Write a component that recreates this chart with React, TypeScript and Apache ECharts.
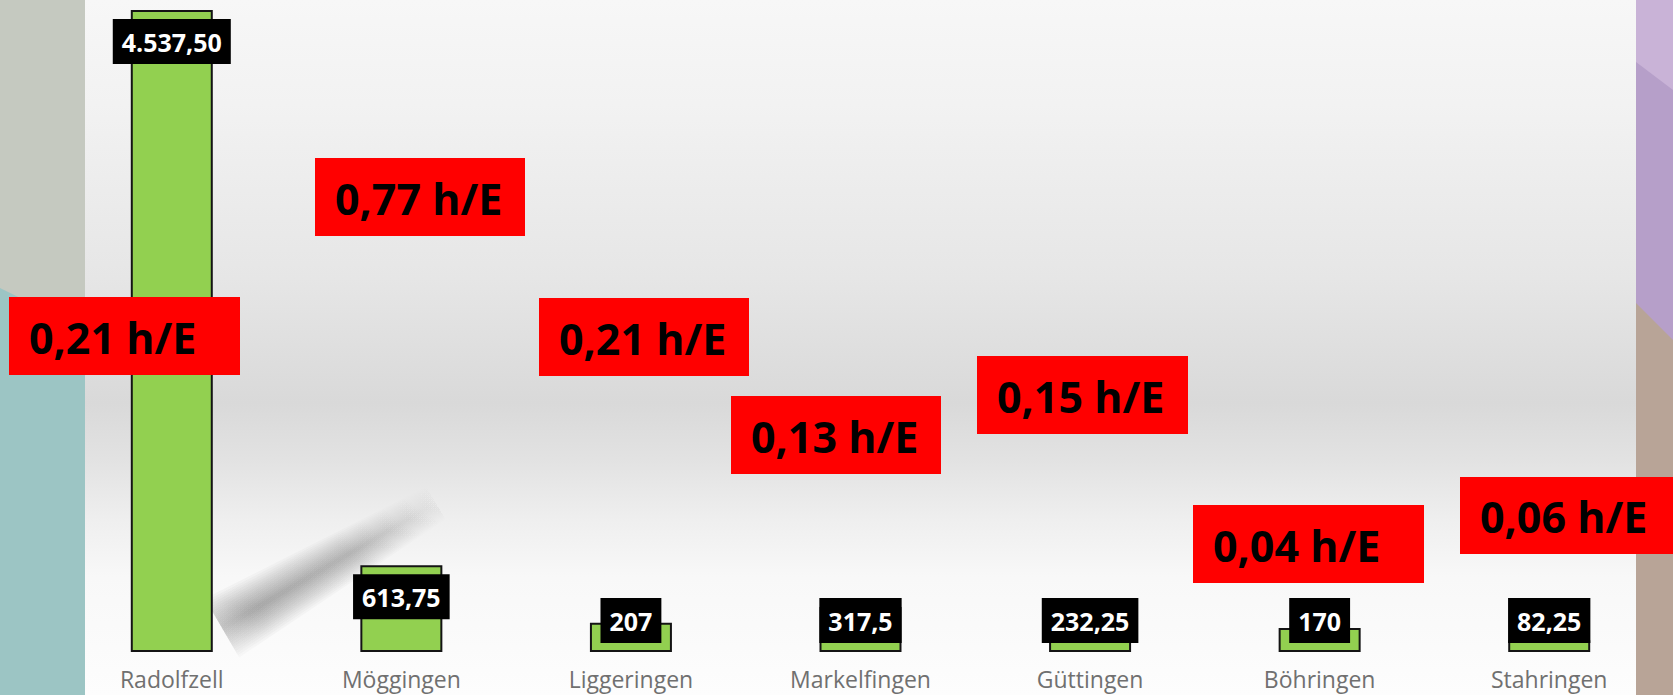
import React, { useEffect, useRef } from "react";
import * as echarts from "echarts";

// ---- data ----
const categories = ["Radolfzell", "Möggingen", "Liggeringen", "Markelfingen", "Güttingen", "Böhringen", "Stahringen"];
const hours = [4537.5, 613.75, 207, 317.5, 232.25, 170, 82.25];
const hourLabels = ["4.537,50", "613,75", "207", "317,5", "232,25", "170", "82,25"];
const hoursPerResident = [0.21, 0.77, 0.21, 0.13, 0.15, 0.04, 0.06];

// ---- layout (annotation boxes: x, y, w, h in px) ----
const ratioBoxes = [
  [9, 297, 231, 78],
  [315, 158, 210, 78],
  [539, 298, 210, 78],
  [731, 396, 210, 78],
  [977, 356, 211, 78],
  [1193, 505, 231, 78],
  [1460, 477, 213, 77],
];

const W = 1673;
const H = 695;
const GRID_TOP = 10;
const GRID_BOTTOM = 43;
const Y_MAX = 4537.5;
const LABEL_BOX_H = 45;

const fmtRatio = (v: number) => v.toFixed(2).replace(".", ",") + " h/E";

export default function App() {
  const ref = useRef<HTMLDivElement>(null);
  useEffect(() => {
    if (!ref.current) return;
    const chart = echarts.init(ref.current, undefined, { renderer: "svg" });
    const plotH = H - GRID_TOP - GRID_BOTTOM;

    const barData = hours.map((v, i) => {
      const px = (v / Y_MAX) * plotH;
      const tall = px >= LABEL_BOX_H + 18;
      return {
        value: v,
        label: {
          position: tall ? "insideTop" : "insideBottom",
          distance: 9,
          formatter: () => hourLabels[i],
        },
      };
    });

    // soft shadow band behind first bar (stacked translucent layers)
    const shadowLayers: any[] = [];
    const c0 = [222, 628];
    const c1 = [436, 503];
    const n = [0.504, 0.864];
    for (let k = 0; k < 14; k++) {
      const w = 34 - k * 2.4;
      const w2 = w * 0.55;
      shadowLayers.push({
        type: "polygon",
        silent: true,
        z: 1,
        shape: {
          points: [
            [c0[0] + n[0] * w, c0[1] + n[1] * w],
            [c1[0] + n[0] * w2, c1[1] + n[1] * w2],
            [c1[0] - n[0] * w2, c1[1] - n[1] * w2],
            [c0[0] - n[0] * w, c0[1] - n[1] * w],
          ],
        },
        style: {
          fill: new echarts.graphic.LinearGradient(0, 1, 1, 0, [
            { offset: 0, color: "rgba(0,0,0,0.012)" },
            { offset: 0.2, color: "rgba(0,0,0,0.028)" },
            { offset: 0.6, color: "rgba(0,0,0,0.022)" },
            { offset: 1, color: "rgba(0,0,0,0.0)" },
          ]),
        },
      });
    }

    const annotations: any[] = [];
    hoursPerResident.forEach((v, i) => {
      const [x, y, w, h] = ratioBoxes[i];
      annotations.push({
        type: "rect",
        z: 100,
        shape: { x, y, width: w, height: h },
        style: { fill: "#ff0000" },
      });
      annotations.push({
        type: "text",
        z: 101,
        x: x + 20,
        y: y + h / 2 + 1,
        style: {
          text: fmtRatio(v),
          fill: "#000000",
          font: "bold 43px 'Open Sans'",
          verticalAlign: "middle",
          align: "left",
        },
      });
    });

    chart.setOption({
      animation: false,
      graphic: [
        {
          type: "rect",
          z: -10,
          silent: true,
          shape: { x: 0, y: 0, width: W, height: H },
          style: {
            fill: new echarts.graphic.LinearGradient(0, 0, 0, 1, [
              { offset: 0, color: "#f7f7f7" },
              { offset: 0.15, color: "#f2f2f2" },
              { offset: 0.4, color: "#e6e6e6" },
              { offset: 0.58, color: "#d9d9d9" },
              { offset: 0.66, color: "#e2e2e2" },
              { offset: 0.75, color: "#efefef" },
              { offset: 0.83, color: "#f8f8f8" },
              { offset: 1, color: "#fdfdfd" },
            ]),
          },
        },
        { type: "rect", z: -5, silent: true, shape: { x: 0, y: 0, width: 85, height: H }, style: { fill: "#c5c9c0" } },
        { type: "polygon", z: -4, silent: true, shape: { points: [[0, 288], [85, 330], [85, H], [0, H]] }, style: { fill: "#9cc5c4" } },
        { type: "rect", z: -5, silent: true, shape: { x: 1636, y: 0, width: W - 1636, height: H }, style: { fill: "#b69fc9" } },
        { type: "polygon", z: -4, silent: true, shape: { points: [[1636, 0], [W, 0], [W, 90], [1636, 62]] }, style: { fill: "#c9b3d7" } },
        { type: "polygon", z: -4, silent: true, shape: { points: [[1636, 303], [W, 340], [W, H], [1636, H]] }, style: { fill: "#b8a497" } },
        ...shadowLayers,
        ...annotations,
      ],
      grid: { left: 57, right: 9, top: GRID_TOP, bottom: GRID_BOTTOM, containLabel: false },
      xAxis: {
        type: "category",
        data: categories,
        axisLine: { show: false },
        axisTick: { show: false },
        axisLabel: {
          color: "#707070",
          fontFamily: "'Open Sans'",
          fontSize: 23,
          margin: 15,
          interval: 0,
        },
      },
      yAxis: {
        type: "value",
        min: 0,
        max: Y_MAX,
        show: false,
        splitLine: { show: false },
      },
      series: [
        {
          type: "bar",
          data: barData,
          barWidth: 82,
          z: 2,
          itemStyle: { color: "#92d050", borderColor: "#141414", borderWidth: 2 },
          label: {
            show: true,
            color: "#ffffff",
            fontFamily: "'Open Sans'",
            fontWeight: "bold",
            fontSize: 25,
            lineHeight: 25,
            backgroundColor: "#000000",
            padding: [10, 9],
          },
        },
      ],
    });
    return () => chart.dispose();
  }, []);
  return <div ref={ref} style={{ position: "absolute", left: 0, top: 0, width: W, height: H }} />;
}
